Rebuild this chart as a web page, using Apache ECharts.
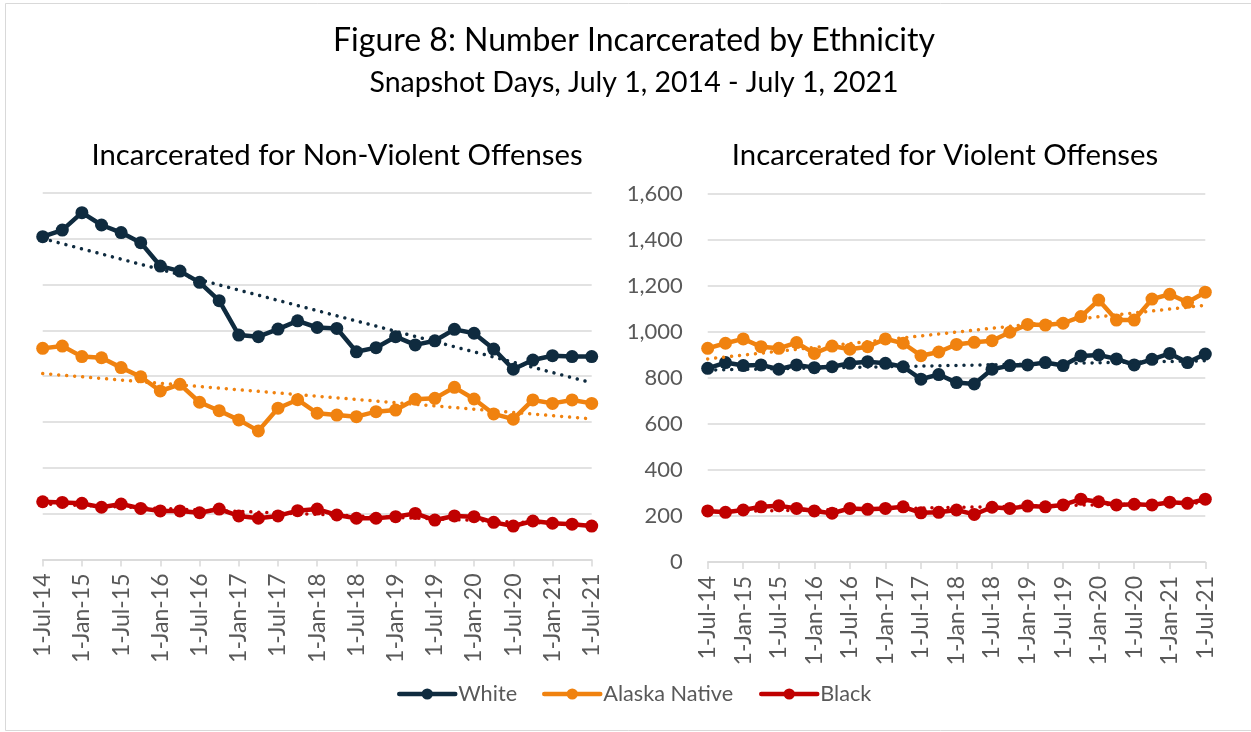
<!DOCTYPE html>
<html>
<head>
<meta charset="utf-8">
<script src="https://cdn.jsdelivr.net/npm/echarts@6/dist/echarts.min.js"></script>
<style>
html,body{margin:0;padding:0;background:#fff;}
#chart{width:1251px;height:732px;}
</style>
</head>
<body>
<div id="chart"></div>
<script>
// Quarterly snapshot dates
const categories = ['1-Jul-14','1-Oct-14','1-Jan-15','1-Apr-15','1-Jul-15','1-Oct-15','1-Jan-16','1-Apr-16','1-Jul-16','1-Oct-16','1-Jan-17','1-Apr-17','1-Jul-17','1-Oct-17','1-Jan-18','1-Apr-18','1-Jul-18','1-Oct-18','1-Jan-19','1-Apr-19','1-Jul-19','1-Oct-19','1-Jan-20','1-Apr-20','1-Jul-20','1-Oct-20','1-Jan-21','1-Apr-21','1-Jul-21'];
const seriesNames = ['White','Alaska Native','Black'];
const yTicks = [0,200,400,600,800,1000,1200,1400,1600];

// Non-violent offenses
const nvWhite  = [1408,1437,1513,1459,1426,1382,1280,1258,1209,1129,979,972,1005,1041,1012,1008,906,924,972,936,954,1004,987,918,830,870,889,885,885];
const nvAlaska = [921,931,885,880,837,797,735,764,686,649,609,561,660,697,638,630,623,645,652,699,703,751,700,635,612,696,681,696,681];
const nvBlack  = [252,249,245,228,242,223,212,212,204,220,190,180,190,213,220,194,180,180,187,201,172,190,187,162,146,168,158,154,146];

// Violent offenses
const vWhite  = [842,867,854,857,838,857,845,849,864,871,864,849,795,815,780,774,838,854,857,867,854,896,900,883,857,881,907,867,904];
const vAlaska = [929,951,970,936,929,954,907,939,925,936,970,951,897,913,946,955,962,999,1033,1030,1038,1067,1139,1052,1052,1143,1164,1129,1173];
const vBlack  = [222,216,226,240,245,233,222,212,233,229,233,240,214,216,226,207,238,233,243,240,248,273,262,248,251,248,260,255,273];

const colors = ['#0F2B3F','#F0820F','#C00000'];
const FONT = 'Lato';
const GREY = '#595959';

// Linear trendline (least squares), as Excel's linear trendline
function trend(arr){
  const n = arr.length;
  let sx=0, sy=0, sxx=0, sxy=0;
  arr.forEach((v,i)=>{sx+=i; sy+=v; sxx+=i*i; sxy+=i*v;});
  const b = (n*sxy - sx*sy)/(n*sxx - sx*sx);
  const a = (sy - b*sx)/n;
  return [[0, a], [n-1, a + b*(n-1)]];
}

function lineSeries(name, data, idx, gi){
  return {
    name: name, type:'line', data: data,
    xAxisIndex: gi, yAxisIndex: gi,
    symbol:'circle', symbolSize: 13,
    showSymbol:true, showAllSymbol:true,
    lineStyle:{width:4.5, color: colors[idx], cap:'round', join:'round'},
    itemStyle:{color: colors[idx]},
    z: 3 + (2-idx),
    animation:false
  };
}
function trendSeries(name, data, idx, gi){
  const t = trend(data);
  return {
    name: name + ' trend', type:'line',
    data: t,
    xAxisIndex: gi+2, yAxisIndex: gi,
    symbol:'none',
    lineStyle:{width:3.5, color: colors[idx], type:[0.01, 8], cap:'round'},
    z: 10,
    silent:true,
    animation:false
  };
}

function xCat(gi){
  return {
    type:'category', gridIndex: gi, data: categories, boundaryGap:false,
    axisLine:{show:true, lineStyle:{color:'#D9D9D9', width:1.5}},
    axisTick:{show:true, interval:1, length:7, lineStyle:{color:'#D9D9D9', width:1.5}},
    axisLabel:{interval:1, rotate:90, fontFamily:FONT, fontSize:23, color:GREY, margin:14},
    splitLine:{show:false}
  };
}
function xVal(gi){
  return {
    type:'value', gridIndex: gi, min:0, max: categories.length-1, show:false
  };
}
function yAx(gi, showLabels){
  return {
    type:'value', gridIndex: gi, min:0, max:1600, interval:200,
    axisLine:{show:false}, axisTick:{show:false},
    axisLabel:{show:showLabels, fontFamily:FONT, fontSize:22, color:GREY, margin:25,
      formatter: v => v.toLocaleString('en-US')},
    splitLine:{show:true, lineStyle:{color:'#D9D9D9', width:1.5}}
  };
}
function legendFor(name, left){
  return {
    data:[name], left:left, top:683, padding:0, orient:'horizontal',
    itemWidth:56, itemHeight:14,
    textStyle:{fontFamily:FONT, fontSize:21.7, color:GREY, padding:[0,0,0,-2]},
    lineStyle:{width:4.5, cap:'round'}
  };
}

const chart = echarts.init(document.getElementById('chart'), null, {renderer:'canvas'});
chart.setOption({
  backgroundColor:'#ffffff',
  animation:false,
  title:[
    {text:'Figure 8: Number Incarcerated by Ethnicity', left:629, top:36, textAlign:'center', textVerticalAlign:'middle',
      textStyle:{fontFamily:FONT, fontSize:32, fontWeight:'normal', color:'#000'}},
    {text:'Snapshot Days, July 1, 2014 - July 1, 2021', left:629, top:78, textAlign:'center', textVerticalAlign:'middle',
      textStyle:{fontFamily:FONT, fontSize:28.5, fontWeight:'normal', color:'#000'}},
    {text:'Incarcerated for Non-Violent Offenses', left:332, top:151, textAlign:'center', textVerticalAlign:'middle',
      textStyle:{fontFamily:FONT, fontSize:29.3, fontWeight:'normal', color:'#000'}},
    {text:'Incarcerated for Violent Offenses', left:940, top:151, textAlign:'center', textVerticalAlign:'middle',
      textStyle:{fontFamily:FONT, fontSize:29.3, fontWeight:'normal', color:'#000'}}
  ],
  graphic:[{type:'rect', shape:{x:5.5, y:3.5, width:1300, height:727}, style:{fill:'none', stroke:'#D9D9D9', lineWidth:1}, silent:true, z:-10}],
  legend:[
    legendFor(seriesNames[0], 397),
    legendFor(seriesNames[1], 542),
    legendFor(seriesNames[2], 759)
  ],
  grid:[
    {left:42.7, top:192.7, width:549, height:366.8, containLabel:false},
    {left:707.7, top:194, width:497.6, height:368, containLabel:false}
  ],
  xAxis:[xCat(0), xCat(1), xVal(0), xVal(1)],
  yAxis:[yAx(0,false), yAx(1,true)],
  series:[
    lineSeries('White', nvWhite, 0, 0),
    lineSeries('Alaska Native', nvAlaska, 1, 0),
    lineSeries('Black', nvBlack, 2, 0),
    lineSeries('White', vWhite, 0, 1),
    lineSeries('Alaska Native', vAlaska, 1, 1),
    lineSeries('Black', vBlack, 2, 1),
    trendSeries('White', nvWhite, 0, 0),
    trendSeries('Alaska Native', nvAlaska, 1, 0),
    trendSeries('Black', nvBlack, 2, 0),
    trendSeries('White', vWhite, 0, 1),
    trendSeries('Alaska Native', vAlaska, 1, 1),
    trendSeries('Black', vBlack, 2, 1)
  ]
});
</script>
</body>
</html>
